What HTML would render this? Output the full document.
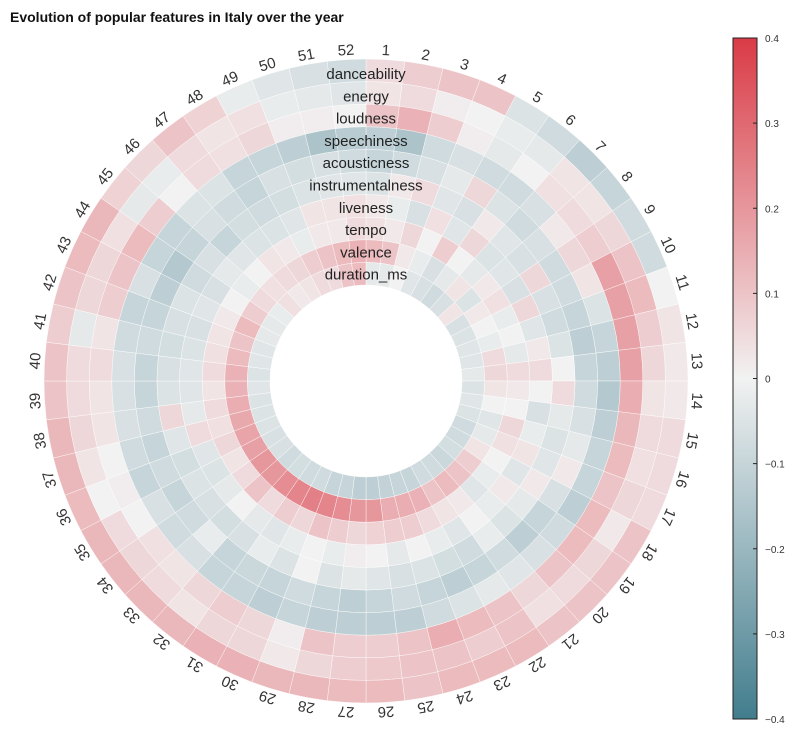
<!DOCTYPE html>
<html><head><meta charset="utf-8"><style>
body{margin:0;background:#fff;}
svg{display:block;font-family:"Liberation Sans",sans-serif;}
</style></head><body>
<svg id="chart" width="800" height="740">
<text x="10" y="22" font-size="14" font-weight="bold" fill="#111">Evolution of popular features in Italy over the year</text>
<g id="cells"></g>
<g id="weeks"></g>
<g id="feats"></g>
<defs><linearGradient id="cg" x1="0" y1="1" x2="0" y2="0">
<stop offset="0" stop-color="rgb(66,125,141)"/><stop offset="0.5" stop-color="rgb(242,242,242)"/><stop offset="1" stop-color="rgb(218,59,70)"/>
</linearGradient></defs>
<rect x="733" y="38" width="24" height="681" fill="url(#cg)" stroke="#222" stroke-width="1"/>
<g id="cbticks"></g>
</svg>
<script>
const features = ["danceability","energy","loudness","speechiness","acousticness","instrumentalness","liveness","tempo","valence","duration_ms"];
const danceability = [0.05,0.08,0.1,0.1,-0.05,-0.08,-0.12,-0.1,-0.08,-0.08,0.0,0.03,0.02,0.02,0.05,0.05,0.05,0.1,0.1,0.1,0.1,0.12,0.12,0.12,0.1,0.12,0.12,0.13,0.13,0.14,0.14,0.13,0.13,0.13,0.13,0.12,0.13,0.13,0.1,0.1,0.08,0.1,0.12,0.13,0.07,0.06,0.1,0.07,-0.02,-0.04,-0.06,-0.08];
const energy = [0.03,0.05,0.01,0.0,-0.02,-0.03,0.03,0.03,0.06,0.1,0.12,0.08,0.06,0.03,0.05,0.04,0.06,0.02,0.06,0.05,0.04,0.1,0.08,0.1,0.1,0.09,0.08,0.06,0.02,0.06,0.06,0.03,0.05,0.06,0.05,0.0,0.03,0.06,0.05,0.05,-0.03,0.06,0.06,0.04,-0.03,-0.02,0.05,0.03,0.04,-0.02,-0.03,-0.04];
const loudness = [0.1,0.14,0.08,0.01,-0.03,0.0,0.04,0.05,0.08,0.18,0.18,0.18,0.18,0.15,0.13,0.12,0.1,0.12,0.12,0.1,0.06,0.1,0.12,0.15,0.1,0.08,0.08,0.1,0.01,0.06,0.08,0.06,0.03,0.04,0.0,0.01,0.0,0.03,0.03,0.05,0.03,0.08,0.1,0.12,0.08,0.0,0.05,0.04,0.06,0.01,0.01,0.0];
const speechiness = [-0.12,-0.16,-0.08,-0.06,-0.08,-0.08,-0.06,0.02,0.06,0.03,-0.05,-0.1,-0.12,-0.14,-0.12,-0.1,-0.1,-0.12,-0.08,-0.06,-0.04,-0.03,-0.05,-0.08,-0.12,-0.12,-0.12,-0.12,-0.1,-0.12,-0.1,-0.1,-0.06,-0.08,-0.06,-0.1,-0.08,-0.06,-0.06,-0.06,-0.08,-0.1,-0.06,-0.1,-0.1,-0.05,-0.05,-0.1,-0.1,-0.12,-0.16,-0.13];
const acousticness = [-0.1,-0.08,-0.06,-0.03,0.06,-0.05,-0.08,-0.06,-0.08,-0.08,-0.1,-0.12,-0.1,-0.08,-0.06,-0.03,0.02,-0.06,-0.1,-0.12,-0.08,-0.1,-0.12,-0.1,-0.08,-0.1,-0.12,-0.1,-0.08,-0.1,-0.09,-0.1,-0.02,-0.08,-0.1,-0.08,-0.1,-0.08,-0.1,-0.1,-0.08,-0.1,-0.12,-0.14,-0.1,-0.06,-0.08,-0.1,-0.06,-0.07,-0.06,-0.08];
const instrumentalness = [-0.05,0.02,0.05,-0.04,-0.06,0.02,-0.04,-0.06,0.06,-0.06,-0.08,-0.05,0.0,0.05,-0.03,-0.05,-0.04,0.02,-0.03,-0.05,-0.02,-0.08,-0.07,-0.05,-0.06,-0.04,-0.03,-0.05,0.0,-0.05,-0.02,-0.06,-0.07,-0.06,-0.05,-0.07,-0.04,0.06,-0.05,-0.06,-0.07,-0.06,-0.05,-0.08,-0.06,-0.1,-0.07,-0.08,-0.07,-0.05,-0.04,-0.04];
const liveness = [0.02,-0.02,-0.06,0.04,-0.04,0.06,-0.05,-0.04,-0.06,0.06,-0.04,0.02,0.05,0.0,-0.06,-0.02,0.03,-0.04,0.02,-0.02,0.0,-0.04,-0.02,0.0,-0.03,0.0,0.01,-0.02,0.0,-0.02,-0.04,-0.03,0.0,-0.03,-0.05,-0.04,0.05,-0.03,-0.04,-0.04,-0.05,-0.06,-0.04,-0.06,-0.03,-0.04,-0.05,-0.05,-0.04,0.03,0.03,0.04];
const tempo = [0.04,0.02,0.06,0.0,0.08,0.0,-0.03,0.02,0.04,-0.02,0.0,-0.03,0.05,0.02,0.0,0.06,0.04,0.0,-0.02,-0.04,0.02,0.03,0.05,0.08,0.08,0.07,0.06,0.08,0.1,0.06,0.08,0.05,0.1,0.05,0.03,0.06,0.04,0.05,0.03,0.05,0.04,0.03,0.02,0.0,-0.02,0.0,0.03,0.02,-0.02,0.02,0.02,0.05];
const valence = [0.12,0.1,0.02,-0.02,-0.06,-0.03,0.03,-0.05,0.02,0.0,-0.02,0.05,0.06,0.03,0.0,-0.04,-0.03,0.03,0.08,0.1,0.12,0.1,0.14,0.15,0.15,0.2,0.2,0.22,0.24,0.25,0.24,0.22,0.2,0.2,0.18,0.17,0.16,0.15,0.14,0.14,0.12,0.1,0.12,0.08,0.05,0.04,0.05,0.06,0.08,0.1,0.12,0.14];
const duration_ms = [-0.03,-0.03,0.0,-0.04,-0.06,-0.08,-0.06,0.03,-0.06,-0.05,-0.04,-0.04,-0.03,-0.05,-0.04,-0.05,-0.08,-0.08,-0.07,-0.09,-0.08,-0.08,-0.1,-0.1,-0.11,-0.12,-0.12,-0.1,-0.1,-0.08,-0.08,-0.07,-0.08,-0.06,-0.06,-0.05,-0.05,-0.05,-0.04,-0.05,-0.04,-0.04,-0.03,-0.03,-0.02,0.04,0.02,0.03,0.05,0.05,0.1,0.12];
const series = [danceability,energy,loudness,speechiness,acousticness,instrumentalness,liveness,tempo,valence,duration_ms];
const cbTicks = [0.4,0.3,0.2,0.1,0,-0.1,-0.2,-0.3,-0.4];

const NS="http://www.w3.org/2000/svg";
const cx=366, cy=381, R=322, r0=96, vmin=-0.4, vmax=0.4;
const ringW=(R-r0)/features.length;
const nW=danceability.length;
function ang(i){return i*2*Math.PI/nW;}
function pt(r,a){return [cx+r*Math.sin(a), cy-r*Math.cos(a)];}
const NEG=[66,125,141], MID=[242,242,242], POS=[218,59,70];
function color(v){
  let t=Math.max(-1,Math.min(1,v/vmax));
  const e=t<0?NEG:POS, a=Math.abs(t);
  const c=MID.map((m,k)=>Math.round(m+(e[k]-m)*a));
  return `rgb(${c[0]},${c[1]},${c[2]})`;
}
const cells=document.getElementById('cells');
series.forEach((vals,ri)=>{
  const ro=R-ri*ringW, rin=ro-ringW;
  vals.forEach((v,wi)=>{
    const a0=ang(wi), a1=ang(wi+1);
    const p1=pt(ro,a0),p2=pt(ro,a1),p3=pt(rin,a1),p4=pt(rin,a0);
    const p=document.createElementNS(NS,'path');
    p.setAttribute('d',`M${p1}A${ro},${ro} 0 0 1 ${p2}L${p3}A${rin},${rin} 0 0 0 ${p4}Z`);
    p.setAttribute('fill',color(v));
    p.setAttribute('stroke','#ffffff');
    p.setAttribute('stroke-width','0.4');
    
    
    cells.appendChild(p);
  });
});
const weeks=document.getElementById('weeks');
for(let i=0;i<nW;i++){
  const a=ang(i+0.5), [x,y]=pt(R+9,a), deg=a*180/Math.PI;
  const t=document.createElementNS(NS,'text');
  t.setAttribute('x',x);t.setAttribute('y',y);
  t.setAttribute('transform',`rotate(${deg} ${x} ${y})`);
  t.setAttribute('text-anchor','middle');t.setAttribute('dominant-baseline','central');
  t.setAttribute('font-size','15');t.setAttribute('fill','#333');
  t.textContent=String(i+1);
  
  
  weeks.appendChild(t);
}
const feats=document.getElementById('feats');
features.forEach((f,i)=>{
  const t=document.createElementNS(NS,'text');
  t.setAttribute('x',cx);t.setAttribute('y',74+i*22.3+5);
  t.setAttribute('text-anchor','middle');t.setAttribute('font-size','15');t.setAttribute('fill','#222');
  t.textContent=f;
  
  
  feats.appendChild(t);
});
const cb=document.getElementById('cbticks');
cbTicks.forEach(v=>{
  const y=38+(vmax-v)/(vmax-vmin)*681;
  const l=document.createElementNS(NS,'line');
  l.setAttribute('x1',753);l.setAttribute('x2',757);l.setAttribute('y1',y);l.setAttribute('y2',y);
  l.setAttribute('stroke','#222');
  
  
  cb.appendChild(l);
  const t=document.createElementNS(NS,'text');
  t.setAttribute('x',765);t.setAttribute('y',y+4);t.setAttribute('font-size','10');t.setAttribute('fill','#333');
  t.textContent=v===0?'0':(v<0?'\u2212'+Math.abs(v):String(v));
  
  
  cb.appendChild(t);
});
</script>
</body></html>
